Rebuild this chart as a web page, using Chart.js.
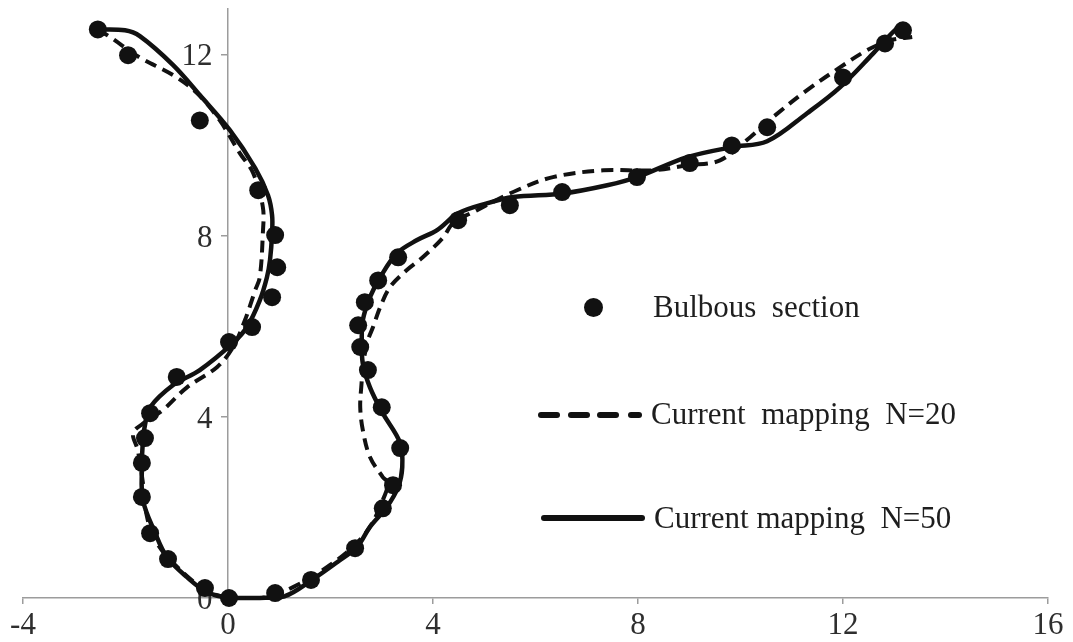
<!DOCTYPE html>
<html>
<head>
<meta charset="utf-8">
<script src="https://cdn.jsdelivr.net/npm/chart.js@4.4.1/dist/chart.umd.min.js"></script>
<style>
  body { margin: 0; background: #fff; }
  #wrap { position: relative; width: 1073px; height: 642px; }
  #hull { position: absolute; left: 0; top: 0; }
  .key { position: absolute; font-family: "Liberation Serif", "Times New Roman", serif;
         font-size: 31px; line-height: 31px; color: #1e1e1e; white-space: pre; }
  .dot { position: absolute; width: 19px; height: 19px; border-radius: 50%; background: #111; }
  .bar { position: absolute; height: 6px; border-radius: 3px; background: #111; }
</style>
</head>
<body>
<div id="wrap">
  <canvas id="hull" width="1073" height="642"></canvas>

  <div class="dot" style="left:584px; top:298px;"></div>
  <div class="key" style="left:653px; top:291px;">Bulbous  section</div>

  <div class="bar" style="left:538px; top:412px; width:22px;"></div>
  <div class="bar" style="left:568px; top:412px; width:22px;"></div>
  <div class="bar" style="left:597px; top:412px; width:22px;"></div>
  <div class="bar" style="left:628px; top:412px; width:14px;"></div>
  <div class="key" style="left:651px; top:398px;">Current  mapping  N=20</div>

  <div class="bar" style="left:541px; top:515px; width:104px;"></div>
  <div class="key" style="left:654px; top:502px;">Current mapping  N=50</div>
</div>

<script>
// measured section points
const sectionX = [-2.54, -1.95, -0.55, 0.59, 0.92, 0.96, 0.86, 0.47, 0.02, -1.00,
  -1.52, -1.62, -1.68, -1.68, -1.52, -1.17, -0.45, 0.02, 0.92, 1.62,
  2.48, 3.02, 3.22, 3.36, 3.00, 2.73, 2.58, 2.54, 2.67, 2.93,
  3.32, 4.49, 5.50, 6.52, 7.98, 9.01, 9.83, 10.52, 12.00, 12.82, 13.17];
const sectionY = [12.55, 11.98, 10.54, 9.00, 8.01, 7.30, 6.64, 5.98, 5.65, 4.88,
  4.08, 3.53, 2.98, 2.23, 1.43, 0.86, 0.22, 0.00, 0.11, 0.40,
  1.10, 1.98, 2.49, 3.31, 4.21, 5.03, 5.54, 6.02, 6.53, 7.01,
  7.52, 8.34, 8.67, 8.96, 9.29, 9.60, 9.99, 10.39, 11.49, 12.24, 12.53];

// mapped contour, N=20
const n20X = [-2.54, -2.30, -1.72, -1.07, -0.60, -0.16, 0.23, 0.49, 0.68, 0.68,
  0.62, 0.53, 0.33, 0.10, -0.21, -0.80, -1.27, -1.62, -1.85, -1.76,
  -1.66, -1.58, -1.42, -1.13, -0.45, 0.04, 0.66, 1.27, 1.93, 2.44,
  2.77, 3.02, 3.12, 3.02, 2.77, 2.63, 2.58, 2.60, 2.65, 2.73,
  2.83, 2.97, 3.16, 3.49, 3.80, 4.20, 4.39, 4.86, 5.64, 6.34,
  7.32, 8.29, 8.96, 9.60, 10.19, 10.63, 11.30, 11.94, 12.47, 12.92, 13.35];
const n20Y = [12.55, 12.38, 11.93, 11.54, 11.14, 10.54, 9.82, 9.38, 8.63, 8.05,
  7.08, 6.79, 6.13, 5.54, 5.10, 4.65, 4.15, 3.88, 3.64, 3.26,
  2.54, 1.79, 1.28, 0.84, 0.18, 0.00, 0.00, 0.24, 0.68, 1.13,
  1.57, 2.16, 2.54, 2.67, 3.11, 3.71, 4.21, 4.65, 5.25, 5.69,
  5.98, 6.42, 6.86, 7.24, 7.52, 7.96, 8.27, 8.56, 9.00, 9.29,
  9.44, 9.44, 9.55, 9.66, 10.17, 10.61, 11.21, 11.71, 12.09, 12.31, 12.38];

// mapped contour, N=50
const n50X = [-2.54, -2.01, -1.72, -1.07, -0.55, 0.04, 0.53, 0.78, 0.86, 0.86,
  0.82, 0.76, 0.62, 0.37, 0.10, -0.55, -1.07, -1.52, -1.62, -1.66,
  -1.68, -1.66, -1.42, -1.19, -0.80, -0.41, 0.04, 0.62, 1.11, 1.64,
  2.13, 2.52, 2.77, 3.10, 3.32, 3.40, 3.36, 3.02, 2.77, 2.63,
  2.61, 2.63, 2.77, 2.97, 3.30, 3.69, 4.08, 4.49, 5.05, 5.56,
  6.54, 7.40, 7.98, 8.96, 9.83, 10.52, 11.30, 11.94, 12.59, 13.01, 13.20];
const n50Y = [12.55, 12.53, 12.40, 11.76, 11.10, 10.32, 9.49, 8.89, 8.45, 8.05,
  7.46, 7.08, 6.57, 5.98, 5.63, 5.03, 4.70, 4.21, 3.82, 3.49,
  2.89, 2.16, 1.43, 0.90, 0.46, 0.13, 0.00, 0.00, 0.04, 0.40,
  0.79, 1.13, 1.57, 2.01, 2.45, 2.89, 3.42, 4.08, 4.65, 5.18,
  5.69, 6.13, 6.64, 7.08, 7.61, 7.90, 8.12, 8.49, 8.71, 8.85,
  8.93, 9.11, 9.29, 9.73, 9.95, 10.08, 10.70, 11.27, 12.02, 12.53, 12.66];

const xTicks = [-4, 0, 4, 8, 12, 16];
const yTicks = [0, 4, 8, 12];

const ink = '#111';
const axisGray = '#9c9c9c';
const tickFont = { family: '"Liberation Serif", "Times New Roman", serif', size: 31 };

const pairs = (xs, ys) => xs.map((x, i) => ({ x: x, y: ys[i] }));

const ctx = document.getElementById('hull').getContext('2d');
new Chart(ctx, {
  type: 'scatter',
  data: {
    datasets: [
      {
        label: 'Bulbous section',
        data: pairs(sectionX, sectionY),
        pointRadius: 9,
        pointBackgroundColor: ink,
        pointBorderWidth: 0,
        clip: false
      },
      {
        label: 'Current mapping N=20',
        data: pairs(n20X, n20Y),
        showLine: true,
        borderColor: ink,
        borderWidth: 4,
        borderDash: [12, 7],
        pointRadius: 0,
        tension: 0.35,
        clip: false
      },
      {
        label: 'Current mapping N=50',
        data: pairs(n50X, n50Y),
        showLine: true,
        borderColor: ink,
        borderWidth: 4.5,
        pointRadius: 0,
        tension: 0.35,
        clip: false
      }
    ]
  },
  options: {
    responsive: false,
    animation: false,
    layout: { padding: { left: 23, right: 25, top: 9, bottom: 0 } },
    plugins: { legend: { display: false }, tooltip: { enabled: false } },
    scales: {
      x: {
        type: 'linear',
        position: 'bottom',
        min: -4,
        max: 16,
        afterBuildTicks: s => { s.ticks = xTicks.map(v => ({ value: v })); },
        // fixed band under the plot so the axis line lands at y = 598
        afterFit: s => { s.paddingLeft = 0; s.paddingRight = 0; s.height = 44; },
        grid: { drawOnChartArea: false, tickLength: 6, color: axisGray, lineWidth: 1.5 },
        border: { color: axisGray, width: 1.5 },
        ticks: { font: tickFont, color: '#2e2e2e', padding: 3 }
      },
      y: {
        type: 'linear',
        position: { x: 0 },
        min: 0,
        max: 13,
        afterBuildTicks: s => { s.ticks = yTicks.map(v => ({ value: v })); },
        afterFit: s => { s.paddingTop = 0; s.paddingBottom = 0; },
        grid: { drawOnChartArea: false, tickLength: 6, color: axisGray, lineWidth: 1.5 },
        border: { color: axisGray, width: 1.5 },
        // labels sit right-aligned on the axis line, so keep a gap after the number
        ticks: { font: tickFont, color: '#2e2e2e', labelOffset: 3, callback: v => v + '  ' }
      }
    }
  }
});
</script>
</body>
</html>
